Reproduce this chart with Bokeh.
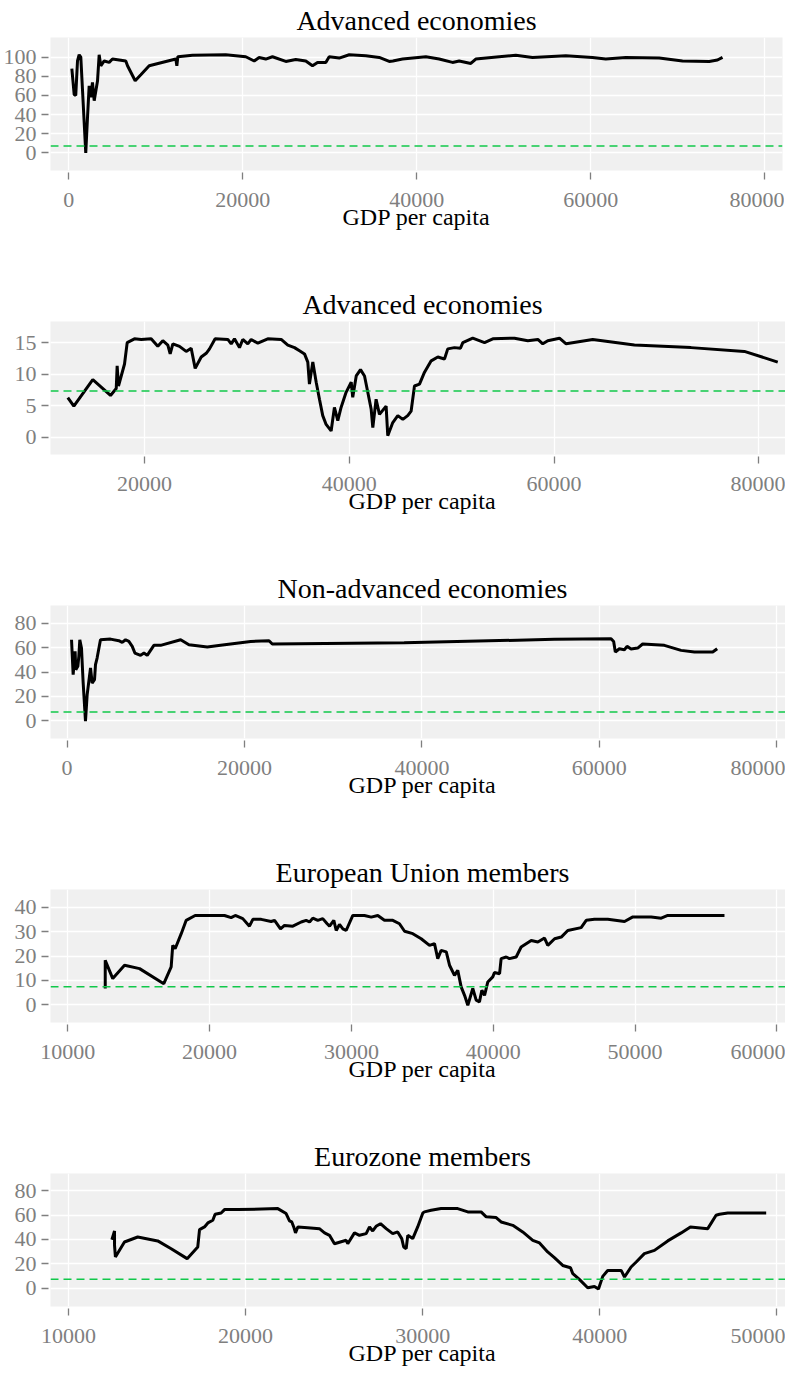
from bokeh.plotting import figure
from bokeh.layouts import column
from bokeh.models import Span, FixedTicker, Range1d, BasicTickFormatter
from bokeh.embed import file_html
from bokeh.resources import INLINE

THRESHOLD = 7.3

# Panel 1: Advanced economies (0-100 scale)
adv1_x = [350, 620, 800, 1000, 1190, 1380, 1950, 2150, 2340, 2530, 2720, 2920, 3300, 3490, 3680,
          4070, 4640, 5020, 5790, 6550, 6750, 7630, 8280, 9240, 12300, 12420, 12530, 14220, 18040,
          20340, 21310, 21880, 22640, 23410, 24940, 26090, 27240, 28010, 28590, 29540, 29930, 31080,
          32230, 34140, 35680, 36830, 37250, 38360, 41040, 42570, 44100, 44870, 46210, 46780, 49470,
          51380, 53300, 57130, 60190, 61720, 64020, 67860, 70540, 73610, 74560, 75140]
adv1_y = [88, 61, 60, 96, 102.5, 100, 0, 37, 70, 58, 73.6, 54.6, 75, 102.5, 91,
          96, 94.5, 98, 97, 96, 91, 75.4, 81.6, 91, 98, 91, 100.4, 102, 102.5,
          100.4, 96, 99.7, 98, 100.4, 95.5, 97.5, 96, 91, 94.5, 94.5, 100.4, 99,
          102.5, 101.4, 99.7, 95.5, 96, 98, 100.4, 98, 94.5, 96, 93.4, 98, 100.4,
          102, 99.7, 101.4, 99.7, 98, 99.7, 99, 96, 95.5, 97, 99.7]

# Panel 2: Advanced economies (0-15 scale)
adv2_x = [12510, 13100, 14950, 16680, 17240, 17330, 17460, 18050, 18310, 19020, 19680, 20650, 21300,
          21790, 22280, 22510, 22770, 23420, 24070, 24560, 24950, 25540, 26030, 26350, 26900, 28140,
          28470, 28790, 29280, 29600, 30090, 30420, 31070, 32040, 33350, 34000, 34650, 35140, 35630,
          35950, 36110, 36440, 36770, 37090, 37410, 37740, 38230, 38550, 38880, 39200, 39690, 40190,
          40340, 40680, 41100, 41490, 41810, 42140, 42300, 42620, 42950, 43600, 43760, 44250, 44740,
          45230, 45710, 46040, 46370, 46860, 47350, 48000, 48650, 49300, 49620, 50270, 50860, 51090,
          52060, 53210, 54020, 56140, 57440, 58420, 58900, 59390, 60530, 61180, 63780, 67850, 73380,
          78590, 81850]
adv2_y = [6.27, 4.9, 9.1, 6.6, 7.7, 11.3, 8.1, 11.6, 15.0, 15.6, 15.5, 15.6, 14.4,
          15.3, 14.6, 13.2, 14.8, 14.4, 13.6, 14.1, 10.9, 12.7, 13.3, 14.0, 15.6, 15.5,
          14.8, 15.6, 14.2, 15.5, 14.8, 15.5, 14.9, 15.6, 15.5, 14.6, 14.2, 13.7, 13.2,
          11.9, 8.4, 11.9, 8.7, 6.0, 3.4, 2.0, 0.96, 4.7, 2.6, 4.7, 7.1, 8.7,
          6.3, 9.7, 10.7, 9.7, 7.1, 4.4, 1.5, 6.0, 3.6, 4.9, 0.2, 2.3, 3.4,
          2.8, 3.4, 4.1, 8.1, 8.4, 10.3, 12.1, 12.7, 12.4, 14.0, 14.2, 14.1, 15.0,
          15.7, 15.0, 15.6, 15.7, 15.3, 15.5, 14.8, 15.3, 15.7, 14.8, 15.5, 14.6, 14.2,
          13.6, 11.9]

# Panel 3: Non-advanced economies
non_x = [497, 680, 900, 980, 1210, 1320, 1430, 1620, 1800, 2070, 2260, 2450, 2640, 2820, 3090, 3200,
         3380, 3760, 4890, 5830, 6210, 6590, 6960, 7340, 7640, 8280, 8660, 9030, 9780, 10540, 12800,
         13730, 15800, 17300, 20690, 22760, 23130, 37990, 54920, 61320, 61610, 61800, 62250, 62820,
         63120, 63570, 64320, 64880, 67330, 69210, 70720, 72780, 73280]
non_y = [66.4, 37.8, 56.9, 41.9, 44.7, 52.8, 66.4, 59.6, 32.4, -0.3, 21.5, 32.4, 43.3, 31, 33.7, 46,
         51.4, 66.4, 66.9, 65.6, 64.2, 66.4, 65, 61, 55.5, 53.6, 55.5, 53.6, 61.8, 61.8, 66.4,
         62.3, 60.4, 61.8, 65, 65.6, 62.9, 63.9, 66.7, 67.2, 65, 56.3, 59, 58.2,
         61, 58.8, 59.6, 62.9, 61.8, 57.7, 56.3, 56.3, 59]

# Panel 4: European Union members
eu_x = [12640, 12640, 13170, 14000, 15060, 16770, 17290, 17400, 17570, 18000, 18350, 18980, 21050,
        21520, 21810, 22340, 22810, 23050, 23640, 24340, 24580, 25000, 25280, 25870, 26460, 26810,
        27050, 27280, 27630, 27980, 28290, 28460, 28760, 28930, 29160, 29400, 29630, 30100, 30920,
        31400, 31860, 32330, 32920, 33390, 33750, 34330, 34920, 35510, 35860, 36090, 36330, 36690,
        36920, 37270, 37500, 37740, 37980, 38210, 38560, 38800, 39030, 39200, 39390, 39620, 39970,
        40090, 40450, 40560, 40920, 41150, 41620, 41970, 42680, 43150, 43620, 43850, 44330, 44800,
        45260, 46200, 46560, 47140, 48080, 49260, 49850, 51140, 51850, 52310, 56310]
eu_y = [6.6, 18.2, 10.7, 16.2, 14.8, 8.6, 15.5, 24.4, 23, 29.2, 34.7, 36.7, 36.7,
        35.8, 36.7, 35.4, 32.3, 35.1, 35.1, 34.2, 34.7, 31.2, 32.6, 32.3, 34, 34.7,
        34, 35.6, 34.7, 35.4, 33.3, 32.3, 34.7, 30.5, 33, 31.2, 30.5, 36.7, 36.7,
        36, 36.7, 34.7, 34.7, 33.3, 30.2, 29.2, 27.1, 24.4, 25.1, 18.9, 22.3, 21.7,
        16.2, 12, 14.1, 7.3, 3.8, -0.3, 6.6, 1.8, 1.1, 5.9, 3.8, 9.3, 11.4,
        13.2, 12.7, 18.9, 19.6, 18.9, 19.6, 23.7, 26.4, 25.8, 27.4, 24.4, 27.1, 27.8,
        30.5, 31.7, 34.7, 35.1, 35.1, 34.2, 36.1, 36.1, 35.6, 36.7, 36.7]

# Panel 5: Eurozone members
ez_x = [12450, 12600, 12600, 12650, 13160, 13910, 15040, 15800, 16700, 17300, 17400, 17680, 17870,
        18150, 18280, 18620, 18810, 19560, 21820, 22290, 22480, 22610, 22720, 22820, 22950, 23510,
        24170, 24460, 24740, 25020, 25680, 25770, 26150, 26430, 26810, 27000, 27180, 27370, 27620,
        27940, 28310, 28590, 28820, 28930, 29070, 29160, 29440, 29720, 30010, 30100, 30480, 31040,
        31980, 32550, 33300, 33590, 34150, 34430, 35090, 35650, 36220, 36600, 37060, 37440, 37910,
        38350, 38480, 38850, 39320, 39700, 39930, 40170, 40450, 41210, 41400, 41770, 42060, 42520,
        43090, 43840, 44600, 45120, 46100, 46570, 46760, 47230, 48170, 49400]
ez_y = [39.8, 47, 35.1, 25.6, 37.9, 42, 38.8, 32.4, 24.2, 33.8, 48.1, 50.3, 53.6,
        55.8, 60.7, 61.8, 64.6, 64.6, 65.4, 61.3, 55.3, 54.4, 50.3, 45.4, 50.3, 49.7,
        48.9, 45.4, 43.4, 36.5, 39.3, 36.5, 45.4, 43.4, 44.8, 50.3, 47, 50.8, 53,
        48.9, 44.8, 46.2, 40.7, 33.8, 32.4, 43.4, 40.7, 50.3, 61.8, 62.7, 64, 65.4,
        65.4, 62.7, 62.7, 58.6, 58, 54.4, 51.6, 46.2, 39.3, 37.1, 29.7, 25, 18.6,
        16.7, 11.8, 7.1, 0.2, 1.3, -0.8, 9.6, 14.5, 14.5, 9.1, 17.3, 21.4, 28.3,
        31, 38.8, 45.4, 50.3, 48.9, 59.9, 60.7, 61.8, 61.8, 61.8]

titles = ["Advanced economies", "Advanced economies", "Non-advanced economies",
          "European Union members", "Eurozone members"]
x_label = "GDP per capita"
x_ticks = [[0, 20000, 40000, 60000, 80000], [20000, 40000, 60000, 80000],
           [0, 20000, 40000, 60000, 80000], [10000, 20000, 30000, 40000, 50000, 60000],
           [10000, 20000, 30000, 40000, 50000]]
y_ticks = [[0, 20, 40, 60, 80, 100], [0, 5, 10, 15], [0, 20, 40, 60, 80],
           [0, 10, 20, 30, 40], [0, 20, 40, 60, 80]]
x_ranges = [(-2103, 82034), (10820, 83486), (-1873, 81997), (8780, 61248), (8984, 50999)]
y_ranges = [(-18.3, 120.5), (-2.78, 18.35), (-14.4, 94.4), (-7.4, 47.4), (-15.2, 94.3)]
series = [(adv1_x, adv1_y), (adv2_x, adv2_y), (non_x, non_y), (eu_x, eu_y), (ez_x, ez_y)]
left_borders = [50, 38, 38, 38, 38]

FONT = "Liberation Serif"
figs = []
for i in range(5):
    left = left_borders[i]
    p = figure(frame_width=784 - left - 2, frame_height=133,
               x_range=Range1d(*x_ranges[i]), y_range=Range1d(*y_ranges[i]),
               output_backend="svg", toolbar_location=None,
               min_border_left=left, min_border_right=2, min_border_top=0, min_border_bottom=0,
               title=titles[i])
    p.background_fill_color = "#f0f0f0"
    p.border_fill_color = "white"
    p.outline_line_color = None
    p.title.align = "center"
    p.title.text_font = FONT
    p.title.text_font_size = "28px"
    p.title.text_font_style = "normal"
    p.title.text_color = "black"
    p.title.standoff = 4
    p.grid.grid_line_color = "white"
    p.grid.grid_line_width = 1.3
    p.xaxis.ticker = FixedTicker(ticks=x_ticks[i])
    p.yaxis.ticker = FixedTicker(ticks=y_ticks[i])
    p.xaxis.formatter = BasicTickFormatter(use_scientific=False)
    for ax in (p.xaxis[0], p.yaxis[0]):
        ax.axis_line_color = None
        ax.major_tick_line_color = "#7f7f7f"
        ax.major_tick_line_width = 1.3
        ax.major_tick_in = -2
        ax.major_tick_out = 9
        ax.minor_tick_line_color = None
        ax.major_label_text_font = FONT
        ax.major_label_text_font_size = "22px"
        ax.major_label_text_color = "#7f7f7f"
    p.yaxis.major_label_standoff = 5
    p.xaxis.major_label_standoff = 13
    p.xaxis.axis_label = x_label
    p.xaxis.axis_label_text_font = FONT
    p.xaxis.axis_label_text_font_size = "24px"
    p.xaxis.axis_label_text_font_style = "normal"
    p.xaxis.axis_label_text_color = "black"
    p.xaxis.axis_label_standoff = -6
    xs, ys = series[i]
    p.line(xs, ys, line_color="black", line_width=3)
    p.add_layout(Span(location=THRESHOLD, dimension="width", line_color="#10c84a",
                      line_dash="8 5", line_width=1.5))
    figs.append(p)

layout = column(*figs, spacing=52)
open("out.html", "w").write(file_html(layout, INLINE))
